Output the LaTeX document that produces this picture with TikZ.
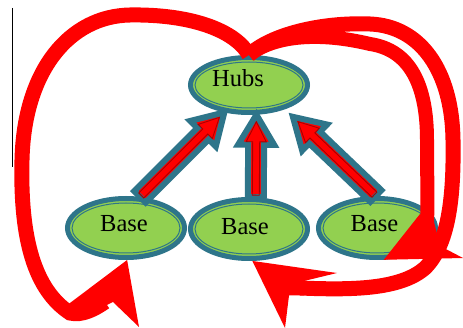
\documentclass[tikz,border=0pt]{standalone}
\usepackage{fontspec}
\setmainfont{Liberation Serif}
\usetikzlibrary{calc,shapes.geometric}
\definecolor{tealA}{HTML}{2E758A}
\definecolor{greenA}{HTML}{92D050}
\definecolor{redA}{HTML}{FF0000}
\definecolor{dredA}{HTML}{A80000}
\newcommand\blockarrow[2]{%
  \coordinate (ba-n) at ($(#2)!30pt!(#1)$);
  \filldraw[blockarr] ($(#1)!8pt!90:(#2)$) -- ($(ba-n)!8pt!-90:(#1)$) -- ($(ba-n)!18pt!-90:(#1)$) -- (#2)
    -- ($(ba-n)!18pt!90:(#1)$) -- ($(ba-n)!8pt!90:(#1)$) -- ($(#1)!8pt!-90:(#2)$) -- cycle;
  \coordinate (ba-t) at ($(#2)!7pt!(#1)$);
  \coordinate (ba-a) at ($(#1)!2pt!(#2)$);
  \coordinate (ba-m) at ($(#2)!27pt!(#1)$);
  \draw[blockin] ($(ba-a)!3.5pt!90:(ba-t)$) -- ($(ba-m)!3.5pt!-90:(ba-a)$) -- ($(ba-m)!10pt!-90:(ba-a)$) -- (ba-t)
    -- ($(ba-m)!10pt!90:(ba-a)$) -- ($(ba-m)!3.5pt!90:(ba-a)$) -- ($(ba-a)!3.5pt!-90:(ba-t)$) -- cycle;
}
\begin{document}
\begin{tikzpicture}[x=1pt,y=-1pt,
  ellbox/.style={ellipse, draw=tealA, line width=5pt, fill=greenA, minimum width=117pt, inner sep=0pt},
  ring/.style={draw=tealA, line width=1pt},
  lbl/.style={inner sep=0pt, font=\fontsize{24.5}{28}\selectfont},
  blockarr/.style={fill=redA, draw=tealA, line width=6pt, line join=miter},
  blockin/.style={draw=dredA, line width=0.9pt, line join=miter},
  redline/.style={draw=redA, line width=14pt, line cap=butt},
  redhead/.style={fill=redA, draw=none}]
\useasboundingbox (0,0) rectangle (463,328);
\fill[white] (0,0) rectangle (463,328);
\draw[black, line width=1pt] (12.5,8) coordinate (vt) -- (12.5,167) coordinate (vb);

% ellipses
\node[ellbox, minimum height=55pt] (hub) at (249,85) {};
\node[ellbox, minimum height=59pt] (lb) at (126,228) {};
\node[ellbox, minimum height=59pt] (mb) at (249,229) {};
\node[ellbox, minimum height=59pt] (rb) at (377,228) {};
\draw[ring] (hub.center) ellipse [x radius=54pt, y radius=23pt];
\draw[ring] (lb.center) ellipse [x radius=54pt, y radius=25pt];
\draw[ring] (mb.center) ellipse [x radius=54pt, y radius=25pt];
\draw[ring] (rb.center) ellipse [x radius=54pt, y radius=25pt];

% block arrows
\blockarrow{lb.66}{hub.228}
\blockarrow{mb.78}{hub.284}
\coordinate (rtip) at ($(hub.326)!11pt!(rb.92)$);
\blockarrow{rb.92}{rtip}

% labels
\node[lbl] (hubt) at (238,78.5) {Hubs};
\node[lbl] (lbt) at (124,224) {Base};
\node[lbl] (mbt) at (245,226.5) {Base};
\node[lbl] (rbt) at (374.5,223.5) {Base};

% red curves
\draw[redline, line width=15pt] (hub.north) .. controls (235,30) and (190,14) .. (130,15)
  .. controls (70,16) and (24,70) .. (22,160)
  .. controls (20,240) and (35,290) .. (70,313)
  .. controls (82,316) and (95,309) .. (105,302);
\fill[redhead] (lb.272) -- (139,327) -- (113,302) -- (78,319) -- (66,306) -- cycle;

\draw[redline, line width=15pt] (hub.north) .. controls (270,35) and (320,22) .. (370,24)
  .. controls (420,26) and (452,70) .. (453,140)
  .. controls (454,200) and (448,245) .. (425,268)
  .. controls (400,290) and (350,290) .. (300,288);
\fill[redhead] (mb.276) -- (337,273) -- (304,281) -- (304,295.5) -- (289,295.5) -- (285,328) -- cycle;

\draw[redline] (hub.north) .. controls (275,35) and (320,32) .. (370,44)
  .. controls (410,50) and (427,85) .. (427,140)
  .. controls (427,180) and (428,200) .. (427,222);
\fill[redhead] (rb.282) -- (420,214) -- (434,222) -- (440,246) -- (463,258) -- cycle;
\end{tikzpicture}
\end{document}
